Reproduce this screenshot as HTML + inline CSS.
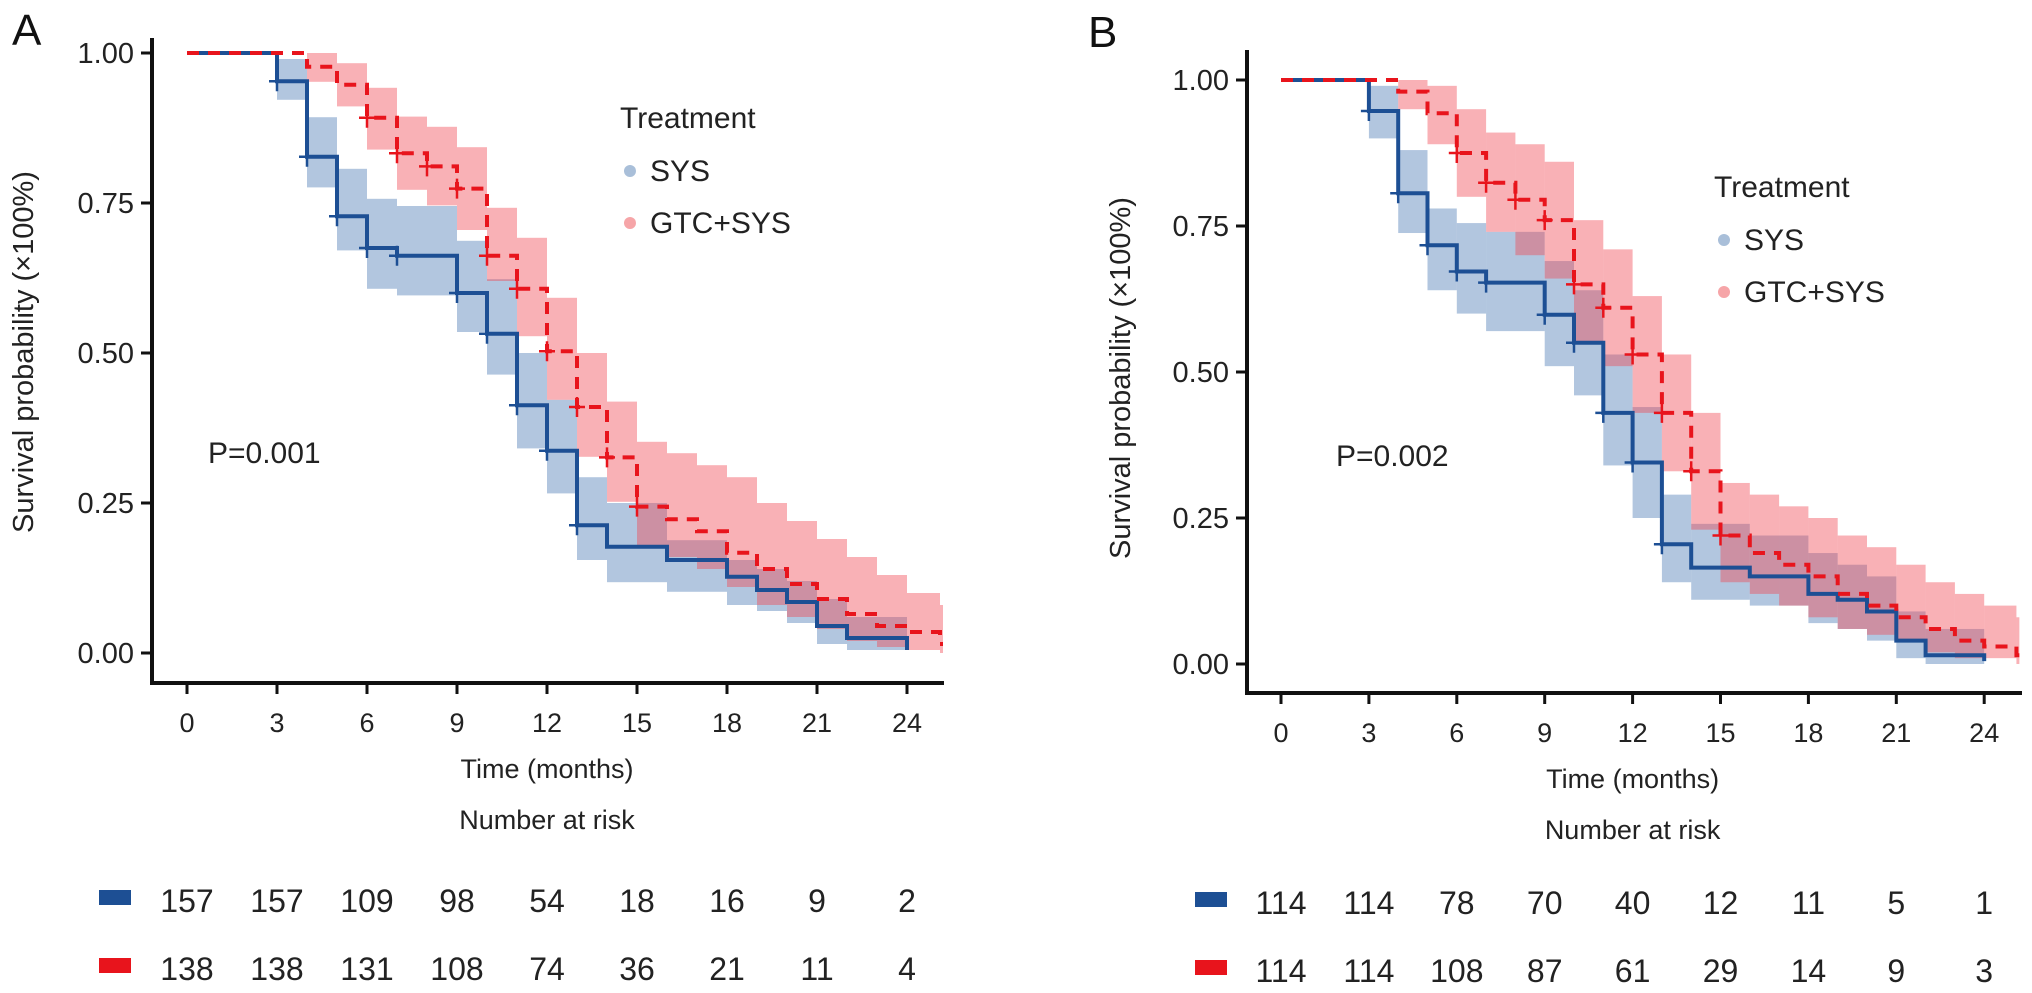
<!DOCTYPE html>
<html><head><meta charset="utf-8">
<style>
html,body{margin:0;padding:0;background:#fff;}
svg{display:block;font-family:"Liberation Sans",Arial,sans-serif;}
</style></head>
<body>
<svg id="chart" width="2032" height="993" viewBox="0 0 2032 993" xmlns="http://www.w3.org/2000/svg"></svg>
<script>
// ---------- Panel A data ----------
const aSysTimes = [3,4,5,6,7,9,10,11,12,13,14,16,18,19,20,21,22,24];
const aSysSurv  = [0.953,0.827,0.728,0.675,0.662,0.600,0.532,0.413,0.337,0.213,0.177,0.155,0.127,0.105,0.085,0.045,0.025,0.005];
const aSysUpper = [0.99,0.893,0.807,0.757,0.745,0.687,0.623,0.50,0.422,0.293,0.25,0.188,0.155,0.14,0.12,0.09,0.06,0.05];
const aSysLower = [0.922,0.776,0.671,0.607,0.596,0.535,0.464,0.341,0.266,0.155,0.118,0.102,0.08,0.07,0.05,0.015,0.005,0.0];
const aSysEnd = 24;
const aGtcTimes = [4,5,6,7,8,9,10,11,12,13,14,15,16,17,18,19,20,21,22,23,24,25.1];
const aGtcSurv  = [0.977,0.947,0.892,0.833,0.811,0.774,0.662,0.607,0.503,0.41,0.326,0.244,0.223,0.203,0.167,0.14,0.115,0.09,0.065,0.045,0.035,0.015];
const aGtcUpper = [1.0,0.983,0.942,0.894,0.877,0.843,0.742,0.692,0.592,0.5,0.419,0.352,0.333,0.313,0.293,0.25,0.22,0.19,0.16,0.13,0.10,0.08];
const aGtcLower = [0.952,0.911,0.839,0.772,0.746,0.705,0.62,0.528,0.422,0.327,0.252,0.18,0.16,0.14,0.11,0.08,0.06,0.04,0.02,0.01,0.005,0.0];
const aGtcEnd = 25.2;
const aRiskSys = [157,157,109,98,54,18,16,9,2];
const aRiskGtc = [138,138,131,108,74,36,21,11,4];
// ---------- Panel B data ----------
const bSysTimes = [3,4,5,6,7,9,10,11,12,13,14,16,18,19,20,21,22,24];
const bSysSurv  = [0.947,0.806,0.717,0.672,0.653,0.598,0.55,0.43,0.345,0.205,0.165,0.15,0.12,0.11,0.09,0.04,0.015,0.005];
const bSysUpper = [0.99,0.88,0.78,0.755,0.74,0.69,0.64,0.53,0.44,0.29,0.24,0.22,0.19,0.17,0.15,0.09,0.06,0.05];
const bSysLower = [0.90,0.738,0.64,0.60,0.57,0.51,0.46,0.34,0.25,0.14,0.11,0.10,0.07,0.06,0.04,0.01,0.0,0.0];
const bSysEnd = 24;
const bGtcTimes = [4,5,6,7,8,9,10,11,12,13,14,15,16,17,18,19,20,21,22,23,24,25.1];
const bGtcSurv  = [0.98,0.943,0.875,0.824,0.795,0.76,0.65,0.61,0.53,0.43,0.33,0.22,0.19,0.17,0.15,0.12,0.10,0.08,0.06,0.04,0.03,0.015];
const bGtcUpper = [1.0,0.99,0.95,0.91,0.89,0.86,0.76,0.71,0.63,0.53,0.43,0.31,0.29,0.27,0.25,0.22,0.20,0.17,0.14,0.12,0.10,0.08];
const bGtcLower = [0.95,0.89,0.80,0.74,0.70,0.66,0.55,0.51,0.43,0.33,0.23,0.14,0.12,0.10,0.08,0.06,0.05,0.04,0.02,0.01,0.01,0.0];
const bGtcEnd = 25.2;
const bRiskSys = [114,114,78,70,40,12,11,5,1];
const bRiskGtc = [114,114,108,87,61,29,14,9,3];
const xTicks = [0,3,6,9,12,15,18,21,24];
const yTicks = [0,0.25,0.5,0.75,1.0];

const NS = "http://www.w3.org/2000/svg";
const svg = document.getElementById('chart');
function mk(tag, attrs, parent){
  const e = document.createElementNS(NS, tag);
  for (const k in attrs) e.setAttribute(k, attrs[k]);
  (parent||svg).appendChild(e);
  return e;
}
const BLUE="#1d4f94", RED="#e8141c";

function panel(p){
  const g = mk('g',{});
  
  
  const X = t => p.x0 + t*p.px;
  const Y = s => p.y0 - s*(p.y0 - p.y1);
  function band(times, up, lo, end, color, name){
    for (let i=0;i<times.length;i++){
      const t0 = times[i], t1 = i+1<times.length ? times[i+1] : end;
      if (t1<=t0) continue;
      const r = mk('rect',{x:X(t0), y:Y(up[i]), width:X(t1)-X(t0), height:Math.max(0,Y(lo[i])-Y(up[i])), fill:color}, g);
      
      
    }
  }
  band(p.sysT,p.sysU,p.sysL,p.sysEnd,"rgba(72,118,178,0.42)","sys");
  band(p.gtcT,p.gtcU,p.gtcL,p.gtcEnd,"rgba(240,70,80,0.42)","gtc-sys");
  function stepPath(times, surv, end){
    let d = `M${X(0)},${Y(1)}`;
    for (let i=0;i<times.length;i++){
      d += ` H${X(times[i])} V${Y(surv[i])}`;
    }
    d += ` H${X(Math.max(end, times[times.length-1]))}`;
    return d;
  }
  const ls = mk('path',{d:stepPath(p.sysT,p.sysS,p.sysEnd), fill:'none', stroke:BLUE, 'stroke-width':4}, g);
  
  
  const lr = mk('path',{d:stepPath(p.gtcT,p.gtcS,p.gtcEnd), fill:'none', stroke:RED, 'stroke-width':4, 'stroke-dasharray':'12,9'}, g);
  
  
  function cens(times, surv, color, n, name){
    for (let i=0;i<Math.min(n,times.length);i++){
      const cx = X(times[i]), cy = Y(surv[i]);
      const c = mk('path',{d:`M${cx-8},${cy} H${cx+8} M${cx},${cy-10} V${cy+10}`, stroke:color, 'stroke-width':2.5, fill:'none'}, g);
      
      
    }
  }
  cens(p.sysT,p.sysS,BLUE,10,'sys');
  cens(p.gtcT.slice(2),p.gtcS.slice(2),RED,10,'gtc-sys');
  const ya = mk('line',{x1:p.ax, y1:p.yTop, x2:p.ax, y2:p.axY+2, stroke:'#111', 'stroke-width':4}, g);
  
  
  const xa = mk('line',{x1:p.ax-2, y1:p.axY, x2:p.xEnd, y2:p.axY, stroke:'#111', 'stroke-width':4}, g);
  
  
  yTicks.forEach(v=>{
    mk('line',{x1:p.ax-11, y1:Y(v), x2:p.ax, y2:Y(v), stroke:'#111','stroke-width':3}, g);
    const t = mk('text',{x:p.ax-18, y:Y(v)+10, 'text-anchor':'end','font-size':29, fill:'#222'}, g);
    t.textContent = v.toFixed(2);
    
    
  });
  xTicks.forEach(v=>{
    mk('line',{x1:X(v), y1:p.axY, x2:X(v), y2:p.axY+11, stroke:'#111','stroke-width':3}, g);
    const t = mk('text',{x:X(v), y:p.axY+49, 'text-anchor':'middle','font-size':27, fill:'#222'}, g);
    t.textContent = v;
    
    
  });
  const yl = mk('text',{x:0,y:0,transform:`translate(${p.ylx},${p.yly}) rotate(-90)`,'text-anchor':'middle','font-size':29,fill:'#222'}, g);
  yl.textContent = 'Survival probability (×100%)';
  
  
  const xl = mk('text',{x:X(12), y:p.axY+95, 'text-anchor':'middle','font-size':27, fill:'#222'}, g);
  xl.textContent = 'Time (months)';
  
  
  const nr = mk('text',{x:X(12), y:p.axY+146, 'text-anchor':'middle','font-size':27, fill:'#222'}, g);
  nr.textContent = 'Number at risk';
  
  
  function riskRow(vals, y, color, name){
    const m = mk('rect',{x:p.mk, y:y-22, width:32, height:15, fill:color}, g);
    
    
    vals.forEach((v,i)=>{
      const t = mk('text',{x:X(xTicks[i]), y:y, 'text-anchor':'middle','font-size':32, fill:'#222'}, g);
      t.textContent = v;
      
      
    });
  }
  riskRow(p.riskS, p.r1, BLUE, 'sys');
  riskRow(p.riskG, p.r2, RED, 'gtc-sys');
  const lg = mk('g',{}, g);
  
  
  const lt = mk('text',{x:p.lgx, y:p.lgy, 'font-size':30, fill:'#222'}, lg);
  lt.textContent = 'Treatment';
  
  
  [['SYS','#a9bfd9',0],['GTC+SYS','#f6a5a8',1]].forEach(([lab,col,i])=>{
    const yy = p.lgy + 53 + i*52;
    mk('circle',{cx:p.lgx+10, cy:yy-10, r:6, fill:col}, lg);
    const t = mk('text',{x:p.lgx+30, y:yy, 'font-size':30, fill:'#222'}, lg);
    t.textContent = lab;
    
    
  });
  const pv = mk('text',{x:p.pvx, y:p.pvy, 'font-size':30, fill:'#222'}, g);
  pv.textContent = p.pval;
  
  
  const lab = mk('text',{x:p.lx, y:p.ly, 'font-size':44, fill:'#111'}, g);
  lab.textContent = p.id;
  
  
}

panel({id:'A', x0:187, px:30, y0:653, y1:53, ax:152, yTop:38, axY:683, xEnd:944,
  sysT:aSysTimes, sysS:aSysSurv, sysU:aSysUpper, sysL:aSysLower, sysEnd:aSysEnd,
  gtcT:aGtcTimes, gtcS:aGtcSurv, gtcU:aGtcUpper, gtcL:aGtcLower, gtcEnd:aGtcEnd,
  riskS:aRiskSys, riskG:aRiskGtc, r1:912, r2:980, mk:99,
  lgx:620, lgy:128, pvx:208, pvy:463, pval:'P=0.001', ylx:33, yly:352, lx:12, ly:45});
panel({id:'B', x0:1281, px:29.3, y0:664, y1:80, ax:1247, yTop:50, axY:693, xEnd:2022,
  sysT:bSysTimes, sysS:bSysSurv, sysU:bSysUpper, sysL:bSysLower, sysEnd:bSysEnd,
  gtcT:bGtcTimes, gtcS:bGtcSurv, gtcU:bGtcUpper, gtcL:bGtcLower, gtcEnd:bGtcEnd,
  riskS:bRiskSys, riskG:bRiskGtc, r1:914, r2:982, mk:1195,
  lgx:1714, lgy:197, pvx:1336, pvy:466, pval:'P=0.002', ylx:1130, yly:378, lx:1088, ly:47});
</script>
</body></html>
